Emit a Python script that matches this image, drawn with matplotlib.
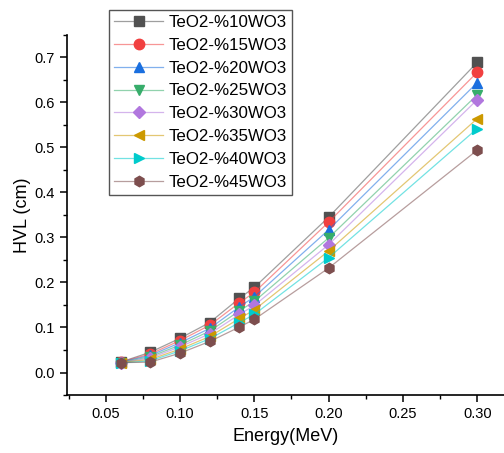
import numpy as np
import matplotlib.pyplot as plt
from matplotlib.colors import to_rgba
from matplotlib.ticker import MultipleLocator

plt.rcParams['font.family'] = ['Liberation Sans', 'DejaVu Sans']

# energy (MeV)
energy = [0.06, 0.08, 0.10, 0.12, 0.14, 0.15, 0.20, 0.30]

labels = ["TeO2-%10WO3", "TeO2-%15WO3", "TeO2-%20WO3", "TeO2-%25WO3",
          "TeO2-%30WO3", "TeO2-%35WO3", "TeO2-%40WO3", "TeO2-%45WO3"]

# HVL (cm)
hvl_10 = [0.023, 0.045, 0.076, 0.111, 0.165, 0.189, 0.345, 0.689]
hvl_15 = [0.023, 0.041, 0.071, 0.105, 0.155, 0.178, 0.334, 0.667]
hvl_20 = [0.023, 0.038, 0.066, 0.098, 0.146, 0.168, 0.317, 0.644]
hvl_25 = [0.022, 0.035, 0.061, 0.092, 0.137, 0.158, 0.299, 0.617]
hvl_30 = [0.022, 0.032, 0.057, 0.086, 0.129, 0.149, 0.284, 0.606]
hvl_35 = [0.022, 0.029, 0.052, 0.080, 0.120, 0.139, 0.270, 0.564]
hvl_40 = [0.021, 0.026, 0.048, 0.075, 0.111, 0.129, 0.255, 0.542]
hvl_45 = [0.022, 0.023, 0.043, 0.069, 0.101, 0.118, 0.232, 0.494]
series = [hvl_10, hvl_15, hvl_20, hvl_25, hvl_30, hvl_35, hvl_40, hvl_45]

colors = ["#515151", "#F14040", "#1A6FDF", "#37AD6B",
          "#B177DE", "#CC9900", "#00CBCC", "#7D4E4E"]
markers = ["s", "o", "^", "v", "D", "<", ">", "h"]

fig = plt.figure(figsize=(5.04, 4.53), dpi=100)
ax = fig.add_axes([0.133, 0.128, 0.867, 0.795])

for y, c, m, lab in zip(series, colors, markers, labels):
    ms = 6 if m == "D" else 7.5
    # light line, solid markers
    ax.plot(energy, y, color=to_rgba(c, 0.55), lw=0.9, marker=m, ms=ms,
            mfc=c, mec=c, label=lab)

ax.set_xlim(0.024, 0.318)
ax.set_ylim(-0.05, 0.75)
ax.xaxis.set_major_locator(MultipleLocator(0.05))
ax.xaxis.set_minor_locator(MultipleLocator(0.025))
ax.yaxis.set_major_locator(MultipleLocator(0.1))
ax.yaxis.set_minor_locator(MultipleLocator(0.05))
ax.xaxis.set_major_formatter(plt.FuncFormatter(lambda v, p: f"{v:.2f}" if v > 0.03 else ""))
ax.yaxis.set_major_formatter(plt.FuncFormatter(lambda v, p: f"{v:.1f}" if v < 0.75 else ""))

for s in ["top", "right"]:
    ax.spines[s].set_visible(False)
for s in ["left", "bottom"]:
    ax.spines[s].set_linewidth(1.2)
ax.tick_params(which="major", direction="out", length=5, width=1.1, labelsize=10.5)
ax.tick_params(which="minor", direction="out", length=3, width=1.0)

ax.set_xlabel("Energy(MeV)", fontsize=13, labelpad=5)
ax.set_ylabel("HVL (cm)", fontsize=13, labelpad=3)

leg = ax.legend(loc="upper left", bbox_to_anchor=(0.216, 0.978),
                bbox_transform=fig.transFigure, fontsize=12.2,
                handlelength=2.9, handletextpad=0.35, labelspacing=0.46,
                borderpad=0.3, borderaxespad=0, fancybox=False,
                framealpha=1, edgecolor="#555555")
leg.get_frame().set_linewidth(1.0)

fig.savefig("out.png", dpi=100)
